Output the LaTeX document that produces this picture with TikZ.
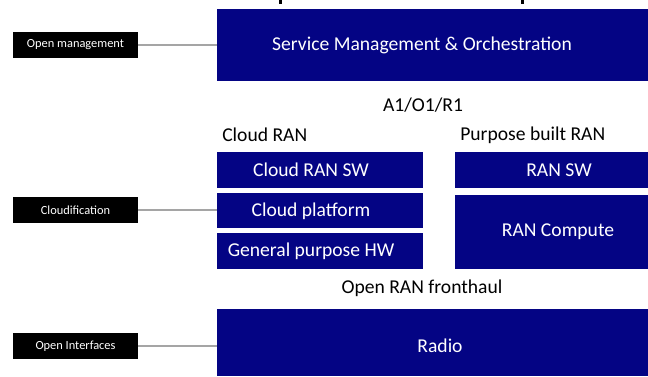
\documentclass[tikz,border=0pt]{standalone}
\usepackage{fontspec}
\setmainfont{Carlito}
\usetikzlibrary{fit}
\definecolor{ranblue}{RGB}{4,4,132}
\definecolor{linkgray}{RGB}{165,165,165}
\tikzset{
  block/.style={fill=ranblue, draw=none, inner sep=0pt},
  wtext/.style={text=white, font=\fontsize{14.7}{17}\selectfont, inner sep=0pt},
  btext/.style={text=black, font=\fontsize{14.7}{17}\selectfont, inner sep=0pt},
  tag/.style={fill=black, text=white, inner sep=0pt, font=\fontsize{9.3}{11}\selectfont,
              minimum width=93.75pt, minimum height=19.5pt},
  link/.style={draw=linkgray, line width=0.9pt}
}
\begin{document}
\begin{tikzpicture}[x=0.75pt, y=-0.75pt]
\useasboundingbox (0,0) rectangle (648,376);
\fill[white] (0,0) rectangle (648,376);
% clipped title descenders along the top edge
\fill[black] (279,0) rectangle (282,4);
\fill[black] (521,0) rectangle (524,4);

% main stack
\node[block, fit={(217,9) (648,81)}] (smo) {};
\node[wtext] (smo-t) at (422,45) {Service Management \& Orchestration};

\node[btext] (a1) at (423,105) {A1/O1/R1};
\node[btext, anchor=west] (cran) at (222,135) {Cloud RAN};
\node[btext, anchor=west] (pbran) at (460,135) {Purpose built RAN};

\node[block, fit={(217,152) (423,188)}] (crsw) {};
\node[wtext] (crsw-t) at (311,170) {Cloud RAN SW};
\node[block, fit={(217,193) (423,228)}] (cpf) {};
\node[wtext] (cpf-t) at (311,211) {Cloud platform};
\node[block, fit={(217,233) (423,269)}] (gphw) {};
\node[wtext] (gphw-t) at (311,251) {General purpose HW};

\node[block, fit={(455,152) (648,188)}] (rsw) {};
\node[wtext] (rsw-t) at (559,170) {RAN SW};
\node[block, fit={(455,195) (648,269)}] (rcomp) {};
\node[wtext] (rcomp-t) at (558,232) {RAN Compute};

\node[btext] (fh) at (422,288) {Open RAN fronthaul};

\node[block, fit={(217,309) (648,376)}] (radio) {};
\node[wtext] (radio-t) at (440,346) {Radio};

% side tags
\node[tag] (om) at (75.5,45) {Open management};
\node[tag] (cl) at (75.5,210) {Cloudification};
\node[tag] (oi) at (75.5,346) {Open Interfaces};

\draw[link] (om.east) -- (om.east -| smo.west);
\draw[link] (cl.east) -- (cl.east -| cpf.west);
\draw[link] (oi.east) -- (oi.east -| radio.west);
\end{tikzpicture}
\end{document}
